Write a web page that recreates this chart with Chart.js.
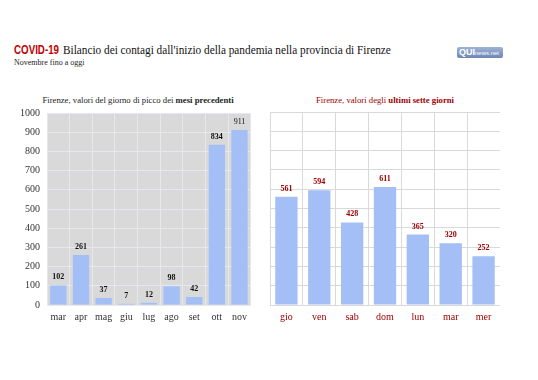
<!DOCTYPE html>
<html>
<head>
<meta charset="utf-8">
<script src="https://cdn.jsdelivr.net/npm/chart.js@4"></script>
<style>
  body { margin: 0; background: #fff; width: 538px; height: 380px; position: relative; overflow: hidden; }
  .abs { position: absolute; white-space: nowrap; font-family: 'Liberation Serif', 'DejaVu Serif', serif; transform-origin: left center; }
  #covid { left: 14px; top: 42px; font-family: 'Liberation Sans', sans-serif; font-weight: bold; color: #c00000; font-size: 13px; transform: scaleX(0.75); }
  #head { left: 63px; top: 42px; font-size: 13px; color: #111; transform: scaleX(0.867); }
  #sub { left: 14px; top: 58px; font-size: 8px; color: #222; }
  #logo { left: 457px; top: 47px; width: 46px; height: 11px; border-radius: 2px;
          background: linear-gradient(#9fb3d6, #6f86b5); font-family: 'Liberation Sans', sans-serif;
          font-size: 9px; line-height: 11px; color: #fff; font-weight: bold; padding-left: 2px; box-sizing: border-box; }
  #logo span { font-size: 6px; font-weight: normal; }
  .ttl { top: 95px; font-size: 8.7px; transform: translateX(-50%); }
  #t1 { left: 138px; color: #222; }
  #t2 { left: 385px; color: #a00000; }
  canvas { position: absolute; }
</style>
</head>
<body>
<div class="abs" id="covid">COVID-19</div>
<div class="abs" id="head">Bilancio dei contagi dall'inizio della pandemia nella provincia di Firenze</div>
<div class="abs" id="sub">Novembre fino a oggi</div>
<div class="abs" id="logo">QUI<span>news.net</span></div>
<div class="abs ttl" id="t1">Firenze, valori del giorno di picco dei <b>mesi precedenti</b></div>
<div class="abs ttl" id="t2">Firenze, valori degli <b>ultimi sette giorni</b></div>
<div style="position:absolute;left:7px;top:100px;width:246px;height:230px"><canvas id="c1"></canvas></div>
<div style="position:absolute;left:270px;top:100px;width:230px;height:230px"><canvas id="c2"></canvas></div>
<script>
const months = ['mar', 'apr', 'mag', 'giu', 'lug', 'ago', 'set', 'ott', 'nov'];
const monthPeaks = [102, 261, 37, 7, 12, 98, 42, 834, 911];
const days = ['gio', 'ven', 'sab', 'dom', 'lun', 'mar', 'mer'];
const dayValues = [561, 594, 428, 611, 365, 320, 252];
const yMax = 1000;
const yStep = 100;

const barColor = '#a3bff5';
const serif = "'Liberation Serif', 'DejaVu Serif', serif";

// grey plot background for the left chart
const plotBg = {
  id: 'plotBg',
  beforeDraw(chart, args, opts) {
    if (!opts.color) return;
    const a = chart.chartArea;
    chart.ctx.save();
    chart.ctx.fillStyle = opts.color;
    chart.ctx.fillRect(a.left, a.top, a.right - a.left, a.bottom - a.top);
    chart.ctx.restore();
  }
};

// value labels above the bars
const valueLabels = {
  id: 'valueLabels',
  afterDatasetsDraw(chart, args, opts) {
    const ctx = chart.ctx;
    const meta = chart.getDatasetMeta(0);
    const data = chart.data.datasets[0].data;
    ctx.save();
    ctx.textAlign = 'center';
    ctx.textBaseline = 'bottom';
    ctx.fillStyle = opts.color;
    meta.data.forEach((bar, i) => {
      const bold = !(opts.plain || []).includes(i);
      ctx.font = (bold ? 'bold ' : '') + '8px ' + serif;
      ctx.fillText(data[i], bar.x, bar.y - 4);
    });
    ctx.restore();
  }
};

function makeChart(el, labels, values, o) {
  return new Chart(el, {
    type: 'bar',
    data: {
      labels: labels,
      datasets: [{ data: values, backgroundColor: barColor, barPercentage: o.barPct, categoryPercentage: 1 }]
    },
    options: {
      responsive: true,
      maintainAspectRatio: false,
      animation: false,
      layout: { padding: { top: 12, right: 0, left: 0, bottom: 0 } },
      plugins: {
        legend: { display: false },
        tooltip: { enabled: false },
        plotBg: { color: o.bg },
        valueLabels: { color: o.labelColor, plain: o.plain }
      },
      scales: {
        x: {
          grid: { color: o.grid, offset: true, drawTicks: false },
          border: { color: o.grid },
          ticks: { color: o.tickColor, font: { family: serif, size: 10 }, padding: 6,
                   autoSkip: false, maxRotation: 0, minRotation: 0 },
          afterFit(s) { s.height = 25; }
        },
        y: {
          min: 0,
          max: yMax,
          grid: { color: o.grid, drawTicks: false },
          border: { color: o.grid },
          ticks: { display: o.yTicks, stepSize: yStep, color: '#333', font: { family: serif, size: 10 }, padding: 7,
                   callback: (v) => String(v) },
          afterFit(s) { s.width = o.yTicks ? 40 : 0; }
        }
      }
    },
    plugins: [plotBg, valueLabels]
  });
}

makeChart(document.getElementById('c1'), months, monthPeaks, {
  barPct: 0.72, bg: '#d9d9d9', grid: '#e6e8f0', tickColor: '#333', labelColor: '#111', yTicks: true, plain: [8]
});
makeChart(document.getElementById('c2'), days, dayValues, {
  barPct: 0.68, bg: null, grid: '#d9d9d9', tickColor: '#a00000', labelColor: '#a00000', yTicks: false, plain: []
});
</script>
</body>
</html>
